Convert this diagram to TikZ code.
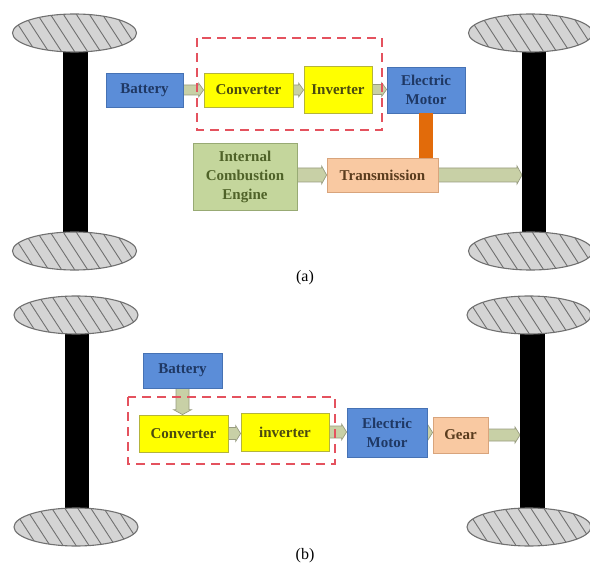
\documentclass[tikz,border=0pt]{standalone}
\usepackage{fontspec}
\setmainfont{Liberation Serif}
\usetikzlibrary{calc,backgrounds}
\definecolor{bluef}{HTML}{5B8DD8}
\definecolor{blued}{HTML}{4672B4}
\definecolor{bluet}{HTML}{1F3864}
\definecolor{yelf}{HTML}{FFFF00}
\definecolor{yeld}{HTML}{B4B43C}
\definecolor{yelt}{HTML}{4A4A10}
\definecolor{icef}{HTML}{C4D69C}
\definecolor{iced}{HTML}{98AA74}
\definecolor{icet}{HTML}{4F6228}
\definecolor{peachf}{HTML}{F9C9A2}
\definecolor{peachd}{HTML}{D8A47C}
\definecolor{peacht}{HTML}{5A3C1E}
\definecolor{shaftf}{HTML}{C8D0A6}
\definecolor{shaftd}{HTML}{989C80}
\definecolor{orangec}{HTML}{E26B0A}
\definecolor{dashred}{HTML}{E4525E}
\definecolor{wheelf}{HTML}{D4D4D4}
\definecolor{wheeld}{HTML}{707070}
\tikzset{
  box/.style={draw, line width=0.8pt, inner sep=0pt, align=center,
    font=\fontsize{15}{19}\selectfont\bfseries},
  bluebox/.style={box, fill=bluef, draw=blued, text=bluet},
  yelbox/.style={box, fill=yelf, draw=yeld, text=yelt},
  icebox/.style={box, fill=icef, draw=iced, text=icet},
  peachbox/.style={box, fill=peachf, draw=peachd, text=peacht},
  shaft/.style={fill=shaftf, draw=shaftd, line width=0.7pt},
  group/.style={draw=dashred, line width=1.5pt, dash pattern=on 9pt off 6pt},
  axle/.style={fill=black},
  caption/.style={font=\fontsize{16}{18}\selectfont}
}
\newcommand\wheel[2]{%
  \begin{scope}
    \clip (#1,#2) ellipse [x radius=62pt, y radius=19pt];
    \fill[wheelf] (#1,#2) ellipse [x radius=62pt, y radius=19pt];
    \foreach \k in {-7,...,6}{
      \draw[wheeld, line width=0.9pt] ($(#1,#2)+(\k*13-12,-20)$) -- ($(#1,#2)+(\k*13+14,20)$);
    }
  \end{scope}
  \draw[wheeld, line width=1.1pt] (#1,#2) ellipse [x radius=62pt, y radius=19pt];
}
\newcommand\harrow[4]{%
  \filldraw[shaft] let \p1=(#1), \p2=(#2) in
    (\x1,\y1+#3) -- (\x2-5pt,\y1+#3) -- (\x2-5pt,\y1+#4) -- (\x2,\y1)
    -- (\x2-5pt,\y1-#4) -- (\x2-5pt,\y1-#3) -- (\x1,\y1-#3) -- cycle;}
\newcommand\varrow[4]{%
  \filldraw[shaft] let \p1=(#1), \p2=(#2) in
    (\x1-#3,\y1) -- (\x1-#3,\y2+5pt) -- (\x1-#4,\y2+5pt) -- (\x1,\y2)
    -- (\x1+#4,\y2+5pt) -- (\x1+#3,\y2+5pt) -- (\x1+#3,\y1) -- cycle;}
\begin{document}
\begin{tikzpicture}[x=1pt,y=-1pt]
\useasboundingbox (0,0) rectangle (590,567);
\begin{scope}[on background layer]
\fill[white] (0,0) rectangle (590,567);
\end{scope}

% ---------- panel (a) ----------
\fill[axle] (63,50) rectangle (88,234);
\fill[axle] (522,50) rectangle (546,234);
\wheel{74.5}{33}
\wheel{74.5}{251}
\wheel{530.5}{33}
\wheel{530.5}{251}

\node[bluebox, minimum width=77pt, minimum height=34pt] (bata) at (144.5,90) {Battery};
\node[yelbox, minimum width=89pt, minimum height=34pt] (conva) at (248.5,90) {Converter};
\node[yelbox, minimum width=68pt, minimum height=47pt] (inva) at (338,89.5) {Inverter};
\node[bluebox, minimum width=78pt, minimum height=46pt] (mota) at (426,90) {Electric\\Motor};
\node[icebox, minimum width=104pt, minimum height=67pt] (ice) at (245,176.5) {Internal\\Combustion\\Engine};
\node[peachbox, minimum width=111pt, minimum height=34pt] (trans) at (382.5,175) {Transmission};
\coordinate (ra) at (522,175);

\begin{scope}[on background layer]
  \harrow{bata.east}{conva.west}{5pt}{7pt}
  \harrow{conva.east}{inva.west}{5pt}{7pt}
  \harrow{inva.east}{mota.west}{5pt}{7pt}
  \harrow{ice.east |- trans.west}{trans.west}{7pt}{9pt}
  \harrow{trans.east}{ra}{7pt}{9pt}
\end{scope}

\draw[orangec, line width=14pt] (mota.south) -- (mota.south |- trans.north);
\draw[group] (197,38) rectangle (382,130);

\node[caption] (capa) at (305,278) {(a)};

% ---------- panel (b) ----------
\fill[axle] (65,333) rectangle (89,510);
\fill[axle] (520,333) rectangle (545,510);
\wheel{76}{315}
\wheel{76}{527}
\wheel{529}{315}
\wheel{529}{527}

\node[bluebox, minimum width=79pt, minimum height=35pt] (batb) at (182.5,370.5) {Battery};
\node[yelbox, minimum width=89pt, minimum height=37pt] (convb) at (183.5,433.5) {Converter};
\node[yelbox, minimum width=88pt, minimum height=38pt] (invb) at (285,432) {inverter};
\node[bluebox, minimum width=80pt, minimum height=49pt] (motb) at (387,432.5) {Electric\\Motor};
\node[peachbox, minimum width=55pt, minimum height=36pt] (gear) at (460.5,435) {Gear};
\coordinate (rb) at (520,434);

\begin{scope}[on background layer]
  \varrow{batb.south}{convb.north}{6.5pt}{9pt}
  \harrow{convb.east}{invb.west}{6pt}{8pt}
  \harrow{invb.east}{motb.west}{6pt}{8pt}
  \harrow{motb.east}{gear.west}{6pt}{8pt}
  \harrow{gear.east}{rb}{6pt}{8pt}
\end{scope}

\draw[group] (128,397) rectangle (335,464);

\node[caption] (capb) at (305,556) {(b)};
\end{tikzpicture}
\end{document}
